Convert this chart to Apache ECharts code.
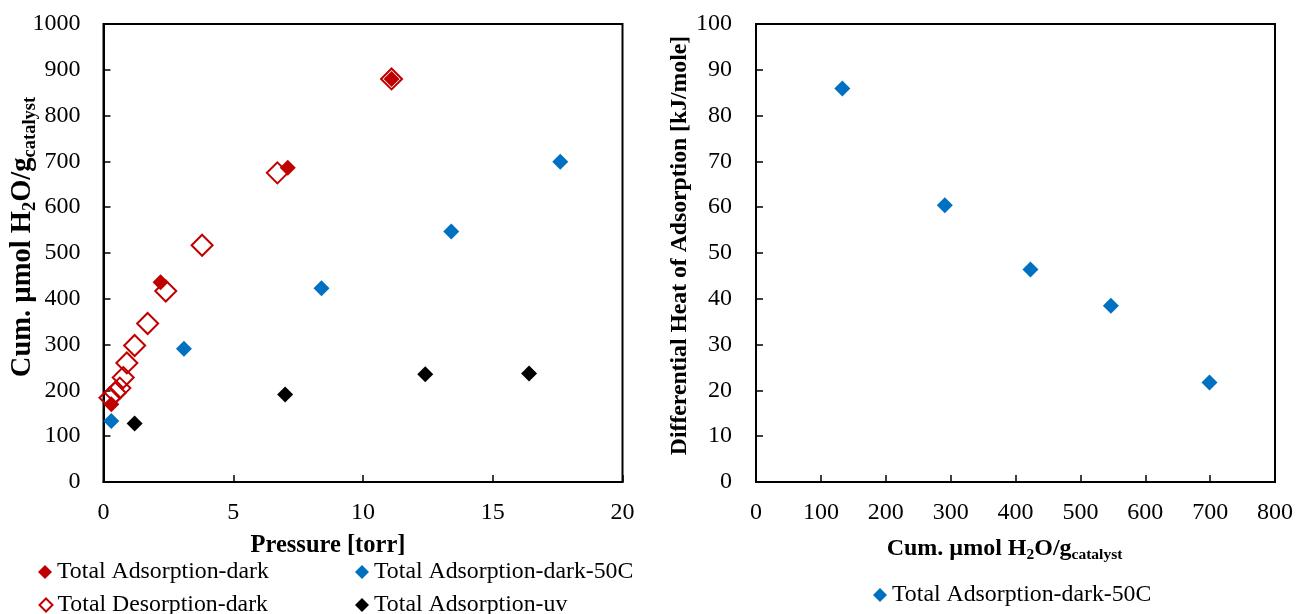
<!DOCTYPE html>
<html>
<head>
<meta charset="utf-8">
<script src="https://cdn.jsdelivr.net/npm/echarts@6/dist/echarts.min.js"></script>
<style>html,body{margin:0;padding:0;background:#fff;}#c{width:1296px;height:614px;}</style>
</head>
<body>
<div id="c"></div>
<script>
// ---- data ----
const adsDarkP = [0.3, 2.2, 7.1, 11.1];
const adsDarkU = [170, 436, 686, 880];
const desDarkP = [11.1, 6.7, 3.8, 2.4, 1.7, 1.2, 0.9, 0.76, 0.63, 0.45, 0.25];
const desDarkU = [880, 675, 517, 417, 346, 298, 260, 228, 205, 195, 184];
const ads50P = [0.3, 3.1, 8.4, 13.4, 17.6];
const ads50U = [133, 291, 423, 547, 699];
const adsUvP = [1.2, 7.0, 12.4, 16.4];
const adsUvU = [128, 191, 235, 237];
const heatX = [133, 291, 423, 547, 699];
const heatY = [85.9, 60.4, 46.4, 38.5, 21.7];
const names = ['Total Adsorption-dark', 'Total Desorption-dark', 'Total Adsorption-dark-50C', 'Total Adsorption-uv'];

const FONT = "'Liberation Serif', 'Times New Roman', serif";
const RED = '#C00000', BLUE = '#0070C0', BLACK = '#000000';

function zip(a, b) { return a.map((v, i) => [v, b[i]]); }

function rich(main, sub, pad) {
  return {
    m: { fontFamily: FONT, fontSize: main, fontWeight: 'bold', color: '#000' },
    s: { fontFamily: FONT, fontSize: sub, fontWeight: 'bold', color: '#000', padding: [pad, 0, 0, 0] }
  };
}

function axisCommon() {
  return {
    axisLine: { show: true, lineStyle: { color: '#000', width: 2 } },
    axisTick: { show: true, inside: true, length: 7, lineStyle: { color: '#000', width: 1.5 } },
    splitLine: { show: false },
    axisLabel: { fontFamily: FONT, fontSize: 24, color: '#000', formatter: v => String(v) }
  };
}

const grids = [
  { left: 103.5, top: 24, width: 519, height: 458, show: true, borderColor: '#000', borderWidth: 2, containLabel: false },
  { left: 756, top: 24, width: 519, height: 458, show: true, borderColor: '#000', borderWidth: 2, containLabel: false }
];

const xAxes = [
  Object.assign(axisCommon(), {
    gridIndex: 0, type: 'value', min: 0, max: 20, interval: 5,
    name: 'Pressure [torr]', nameLocation: 'middle', nameGap: 51,
    nameTextStyle: { fontFamily: FONT, fontSize: 24.5, fontWeight: 'bold', color: '#000', padding: [0, 70, 0, 0] }
  }),
  Object.assign(axisCommon(), {
    gridIndex: 1, type: 'value', min: 0, max: 800, interval: 100,
    name: '{m|Cum. µmol H}{s|2}{m|O/g}{s|catalyst}', nameLocation: 'middle', nameGap: 53,
    nameTextStyle: { rich: rich(24, 15.5, 12), padding: [0, 22, 0, 0] }
  })
];
xAxes.forEach(a => { a.axisLabel.margin = 19; });

const yAxes = [
  Object.assign(axisCommon(), {
    gridIndex: 0, type: 'value', min: 0, max: 1000, interval: 100,
    name: '{m|Cum. µmol H}{s|2}{m|O/g}{s|catalyst}', nameLocation: 'middle', nameGap: 64,
    nameMoveOverlap: false,
    nameTextStyle: { rich: rich(28.5, 18.5, 14), padding: [0, 0, 0, 32] }
  }),
  Object.assign(axisCommon(), {
    gridIndex: 1, type: 'value', min: 0, max: 100, interval: 10,
    name: 'Differential Heat of Adsorption [kJ/mole]', nameLocation: 'middle', nameGap: 64,
    nameTextStyle: { fontFamily: FONT, fontSize: 23.7, fontWeight: 'bold', color: '#000', padding: [0, 0, 0, 15] }
  })
];
yAxes[0].axisLabel.margin = 23;
yAxes[1].axisLabel.margin = 24;

const series = [
  { name: names[1], type: 'scatter', xAxisIndex: 0, yAxisIndex: 0, symbol: 'diamond', symbolSize: 21,
    itemStyle: { color: 'rgba(255,255,255,0)', borderColor: RED, borderWidth: 2, opacity: 1 }, data: zip(desDarkP, desDarkU) },
  { name: names[0], type: 'scatter', xAxisIndex: 0, yAxisIndex: 0, symbol: 'diamond', symbolSize: 16,
    itemStyle: { color: RED, opacity: 1 }, data: zip(adsDarkP, adsDarkU) },
  { name: names[2], type: 'scatter', xAxisIndex: 0, yAxisIndex: 0, symbol: 'diamond', symbolSize: 16,
    itemStyle: { color: BLUE, opacity: 1 }, data: zip(ads50P, ads50U) },
  { name: names[3], type: 'scatter', xAxisIndex: 0, yAxisIndex: 0, symbol: 'diamond', symbolSize: 16,
    itemStyle: { color: BLACK, opacity: 1 }, data: zip(adsUvP, adsUvU) },
  { name: names[2], type: 'scatter', xAxisIndex: 1, yAxisIndex: 1, symbol: 'diamond', symbolSize: 16,
    itemStyle: { color: BLUE, opacity: 1 }, data: zip(heatX, heatY) }
];

function leg(name, left, top, hollow) {
  return {
    data: [{ name: name, icon: 'diamond' }], left: left, top: top, padding: 0, itemGap: 0,
    itemWidth: hollow ? 13 : 14, itemHeight: hollow ? 13 : 14, selectedMode: false,
    textStyle: { fontFamily: FONT, fontSize: 23.8, color: '#000', padding: [0, 0, 0, 0] }
  };
}

const option = {
  animation: false,
  backgroundColor: '#fff',
  grid: grids,
  xAxis: xAxes,
  yAxis: yAxes,
  legend: [
    leg(names[0], 38, 560),
    leg(names[1], 38.5, 593, true),
    leg(names[2], 355, 560),
    leg(names[3], 355, 593),
    leg(names[2], 873, 583)
  ],
  series: series
};

const chart = echarts.init(document.getElementById('c'), null, { renderer: 'canvas' });
chart.setOption(option);
</script>
</body>
</html>
